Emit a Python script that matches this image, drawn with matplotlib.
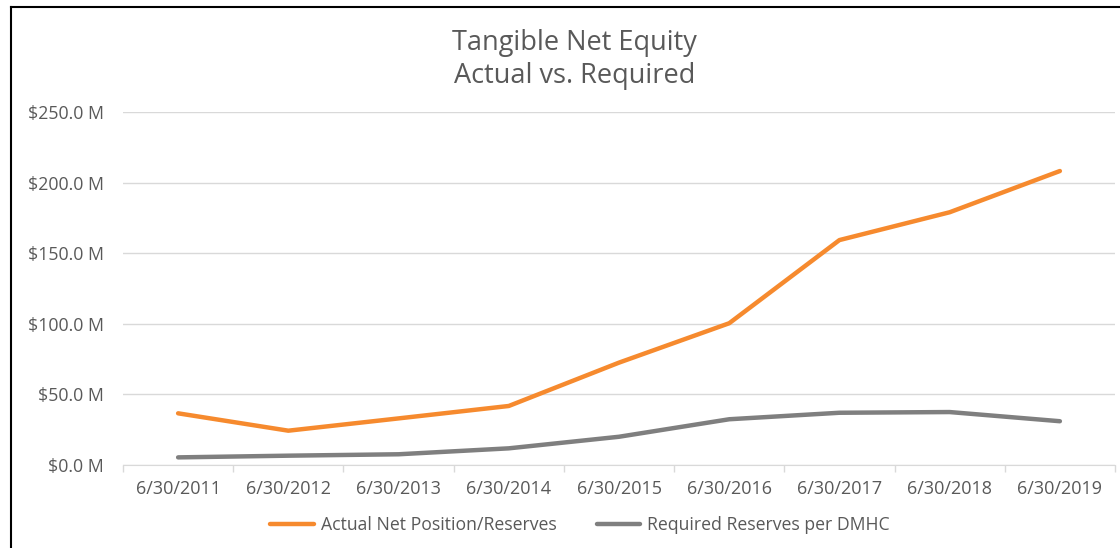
import matplotlib
matplotlib.use("Agg")
import matplotlib.pyplot as plt
from matplotlib.lines import Line2D
from matplotlib.ticker import FuncFormatter, FixedLocator
import numpy as np

plt.rcParams["font.family"] = ["Open Sans", "DejaVu Sans"]

dates = ["6/30/2011", "6/30/2012", "6/30/2013", "6/30/2014", "6/30/2015",
         "6/30/2016", "6/30/2017", "6/30/2018", "6/30/2019"]
actual = [36.6, 24.3, 33.0, 41.8, 72.5, 100.4, 159.3, 179.0, 208.2]
required = [5.4, 6.6, 7.6, 11.8, 20.0, 32.4, 37.0, 37.5, 31.0]

TEXT = "#595959"
GRID = "#d9d9d9"
ORANGE = "#f68a2e"
GREY = "#7f7f7f"

fig = plt.figure(figsize=(11.2, 5.48), dpi=100)
ax = fig.add_axes([123 / 1120, 1 - 465 / 548, (1115 - 123) / 1120, (465 - 112) / 548])

x = np.arange(len(dates))
ax.plot(x, actual, color=ORANGE, lw=3.2, solid_capstyle="round", solid_joinstyle="round",
        label="Actual Net Position/Reserves")
ax.plot(x, required, color=GREY, lw=3.2, solid_capstyle="round", solid_joinstyle="round",
        label="Required Reserves per DMHC")

ax.set_xlim(-0.5, len(dates) - 0.5)
ax.set_ylim(0, 250)
ax.set_yticks([0, 50, 100, 150, 200, 250])
ax.yaxis.set_major_formatter(FuncFormatter(lambda v, p: f"${v:.1f} M"))
ax.set_xticks(x)
ax.set_xticklabels(dates)
ax.xaxis.set_minor_locator(FixedLocator(np.arange(-0.5, len(dates), 1.0)))

ax.grid(axis="y", color=GRID, lw=1)
ax.set_axisbelow(True)
for s in ["top", "right", "left"]:
    ax.spines[s].set_visible(False)
ax.spines["bottom"].set_color(GRID)
ax.tick_params(axis="y", length=0, pad=14, labelsize=12.8, labelcolor=TEXT)
ax.tick_params(axis="x", which="major", length=0, pad=11, labelsize=13, labelcolor=TEXT)
ax.tick_params(axis="x", which="minor", length=5, color=GRID, width=1)

fig.text(0.513, 0.921, "Tangible Net Equity", ha="center", va="center", fontsize=19.5, color=TEXT)
fig.text(0.513, 0.861, "Actual vs. Required", ha="center", va="center", fontsize=19.5, color=TEXT)

fig.legend(loc="center", bbox_to_anchor=(0.518, 0.042), ncol=2, frameon=False,
           fontsize=12.7, labelcolor=TEXT, handlelength=2.45, handletextpad=0.4,
           columnspacing=2.3)

# chart border (left and top edges visible)
fig.add_artist(Line2D([11 / 1120, 11 / 1120], [0, 1 - 7 / 548], transform=fig.transFigure,
                      color="black", lw=1.5))
fig.add_artist(Line2D([11 / 1120, 1], [1 - 7 / 548, 1 - 7 / 548], transform=fig.transFigure,
                      color="black", lw=1.5))

fig.savefig("out.png", dpi=100, facecolor="white")
